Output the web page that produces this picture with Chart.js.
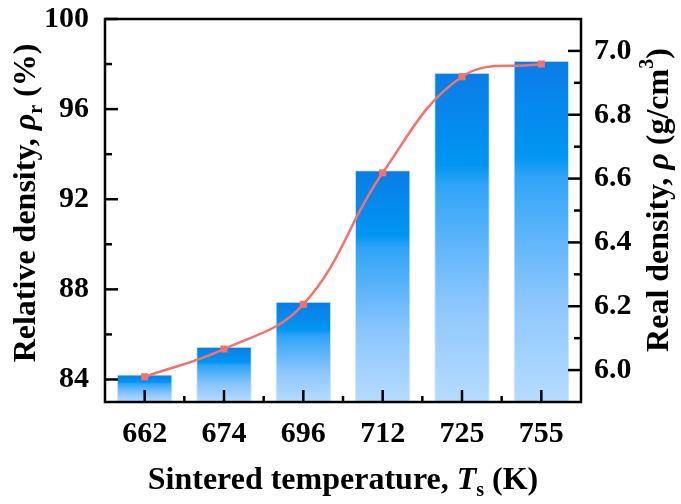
<!DOCTYPE html>
<html>
<head>
<meta charset="utf-8">
<script src="https://cdn.jsdelivr.net/npm/chart.js@4/dist/chart.umd.min.js"></script>
<style>
  html, body { margin: 0; padding: 0; background: #fff; }
  #wrap { width: 681px; height: 504px; }
</style>
</head>
<body>
<div id="wrap"><canvas id="chart" width="681" height="504"></canvas></div>
<script>
// data
const temps = ['662', '674', '696', '712', '725', '755'];
const relDensity = [84.22, 85.45, 87.45, 93.29, 97.61, 98.15];   // %, left axis (bars)
const realDensity = [5.979, 6.066, 6.206, 6.618, 6.919, 6.959]; // g/cm3, right axis (line)
const leftTicks = [84, 88, 92, 96, 100];
const leftMinor = [86, 90, 94, 98];
const rightTicks = [6.0, 6.2, 6.4, 6.6, 6.8, 7.0];
const rightMinor = [6.1, 6.3, 6.5, 6.7, 6.9];

const FONT = '"Liberation Serif", "Times New Roman", serif';
const LINE = '#F7716A';
const TICK_SIZE = 30;
const TITLE_SIZE = 32;

// gradient for each bar, from its own top down to the axis
function barGradient(context) {
  const chart = context.chart;
  const area = chart.chartArea;
  if (!area || context.type !== 'data') return '#1a8cf0';
  const top = chart.scales.y.getPixelForValue(context.raw);
  const g = chart.ctx.createLinearGradient(0, top, 0, area.bottom);
  g.addColorStop(0, '#0A7CE6');
  g.addColorStop(0.28, '#0096F2');
  g.addColorStop(0.34, '#30A4F8');
  g.addColorStop(0.7, '#8CC6FF');
  g.addColorStop(1, '#B6DCFF');
  return g;
}

// draws text made of pieces (italic / sub / sup), centred on x,y
function drawRich(c, parts, x, y, angle, size) {
  c.save();
  c.translate(x, y);
  c.rotate(angle);
  c.textBaseline = 'middle';
  c.textAlign = 'left';
  const fontOf = p => (p.italic ? 'italic ' : '') + 'bold ' + ((p.sub || p.sup) ? Math.round(size * 0.62) : size) + 'px ' + FONT;
  let total = 0;
  parts.forEach(p => { c.font = fontOf(p); total += c.measureText(p.t).width; });
  let cx = -total / 2;
  parts.forEach(p => {
    c.font = fontOf(p);
    let dy = 0;
    if (p.sub) dy = size * 0.3;
    if (p.sup) dy = -size * 0.38;
    c.fillStyle = '#000';
    c.fillText(p.t, cx, dy);
    cx += c.measureText(p.t).width;
  });
  c.restore();
}

const framePlugin = {
  id: 'frame',
  afterDraw(chart) {
    const c = chart.ctx;
    const a = chart.chartArea;
    const sy = chart.scales.y, sy1 = chart.scales.y1, sx = chart.scales.x;
    c.save();
    c.strokeStyle = '#000';
    c.lineWidth = 2.5;
    c.lineCap = 'butt';
    const tick = (x1, y1, x2, y2) => { c.beginPath(); c.moveTo(x1, y1); c.lineTo(x2, y2); c.stroke(); };
    // left ticks, inward
    leftTicks.forEach(v => { const p = sy.getPixelForValue(v); tick(a.left, p, a.left + 13, p); });
    leftMinor.forEach(v => { const p = sy.getPixelForValue(v); tick(a.left, p, a.left + 7, p); });
    // right ticks, inward
    rightTicks.forEach(v => { const p = sy1.getPixelForValue(v); tick(a.right, p, a.right - 13, p); });
    rightMinor.forEach(v => { const p = sy1.getPixelForValue(v); tick(a.right, p, a.right - 7, p); });
    // bottom ticks: major at centres, minor between
    temps.forEach((t, i) => {
      const p = sx.getPixelForValue(i);
      tick(p, a.bottom, p, a.bottom - 12);
      if (i > 0) {
        const m = (p + sx.getPixelForValue(i - 1)) / 2;
        tick(m, a.bottom, m, a.bottom - 6);
      }
    });
    c.strokeRect(a.left, a.top, a.right - a.left, a.bottom - a.top);
    c.restore();

    drawRich(c, [
      { t: 'Relative density, ' }, { t: 'ρ', italic: true }, { t: 'r', sub: true }, { t: ' (%)' }
    ], 27, 203, -Math.PI / 2, TITLE_SIZE);
    drawRich(c, [
      { t: 'Real density, ' }, { t: 'ρ', italic: true }, { t: ' (g/cm' }, { t: '3', sup: true }, { t: ')' }
    ], 660, 200, -Math.PI / 2, TITLE_SIZE);
    drawRich(c, [
      { t: 'Sintered temperature, ' }, { t: 'T', italic: true }, { t: 's', sub: true }, { t: ' (K)' }
    ], (a.left + a.right) / 2, 481, 0, TITLE_SIZE);
  }
};

function fixPad(s) {
  s.paddingTop = 0; s.paddingBottom = 0; s.paddingLeft = 0; s.paddingRight = 0;
}

new Chart(document.getElementById('chart'), {
  data: {
    labels: temps,
    datasets: [
      {
        type: 'line',
        data: realDensity,
        yAxisID: 'y1',
        order: 0,
        borderColor: LINE,
        backgroundColor: LINE,
        borderWidth: 2.5,
        tension: 0.4,
        pointStyle: 'rect',
        pointRadius: 5,
        pointBorderWidth: 0,
        pointBackgroundColor: LINE
      },
      {
        type: 'bar',
        data: relDensity,
        yAxisID: 'y',
        order: 1,
        backgroundColor: barGradient,
        borderColor: 'rgba(205,228,255,0.9)',
        borderWidth: 1,
        barPercentage: 0.7,
        categoryPercentage: 1.0
      }
    ]
  },
  options: {
    responsive: false,
    animation: false,
    layout: { padding: { top: 19, left: 0, right: 0, bottom: 0 } },
    plugins: { legend: { display: false }, tooltip: { enabled: false } },
    scales: {
      x: {
        grid: { display: false, drawTicks: false },
        border: { display: false },
        ticks: { color: '#000', padding: 14, font: { family: FONT, size: TICK_SIZE, weight: 'bold' } },
        afterFit(s) { s.height = 102; fixPad(s); }
      },
      y: {
        position: 'left',
        min: 83,
        max: 100,
        grid: { display: false, drawTicks: false },
        border: { display: false },
        afterBuildTicks(s) { s.ticks = leftTicks.map(v => ({ value: v })); },
        ticks: { color: '#000', padding: 16, font: { family: FONT, size: TICK_SIZE, weight: 'bold' } },
        afterFit(s) { s.width = 105; fixPad(s); }
      },
      y1: {
        position: 'right',
        min: 5.9,
        max: 7.1,
        grid: { display: false, drawTicks: false },
        border: { display: false },
        afterBuildTicks(s) { s.ticks = rightTicks.map(v => ({ value: v })); },
        ticks: {
          color: '#000', padding: 13, font: { family: FONT, size: TICK_SIZE, weight: 'bold' },
          callback: v => Number(v).toFixed(1)
        },
        afterFit(s) { s.width = 100; fixPad(s); }
      }
    }
  },
  plugins: [framePlugin]
});
</script>
</body>
</html>
